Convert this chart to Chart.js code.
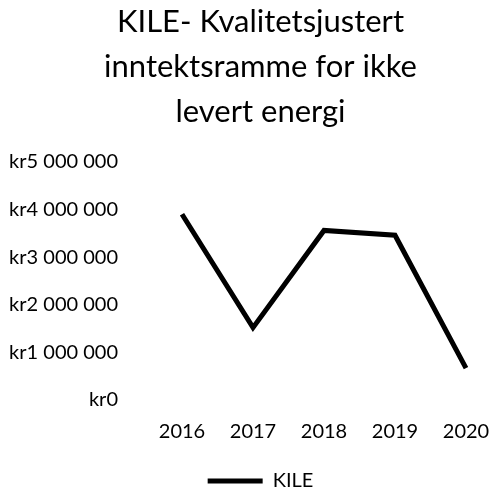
<!DOCTYPE html>
<html>
<head>
<meta charset="utf-8">
<script src="https://cdn.jsdelivr.net/npm/chart.js@4"></script>
<style>
html,body{margin:0;padding:0;background:#fff;overflow:hidden;width:491px;height:492px;}
canvas{display:block;}
</style>
</head>
<body>
<canvas id="c" width="521" height="492"></canvas>
<script>
const categories = ['2016', '2017', '2018', '2019', '2020'];
const kileValues = [3900000, 1520000, 3560000, 3460000, 670000];
const seriesName = 'KILE';
const titleLines = ['KILE- Kvalitetsjustert', 'inntektsramme for ikke', 'levert energi'];
const yMin = 0, yMax = 5000000, yStep = 1000000;

function fmtKr(v) {
  return 'kr' + String(Math.round(v)).replace(/\B(?=(\d{3})+(?!\d))/g, ' ');
}

const FONT = 'Lato, "Open Sans", sans-serif';

new Chart(document.getElementById('c'), {
  type: 'line',
  data: {
    labels: categories,
    datasets: [{
      label: seriesName,
      data: kileValues,
      yAxisID: 'y',
      borderColor: '#000000',
      backgroundColor: '#000000',
      borderWidth: 5,
      pointRadius: 0,
      pointHoverRadius: 0,
      pointStyle: 'line',
      pointBorderWidth: 5,
      pointBorderColor: '#000000',
      tension: 0,
      fill: false
    }]
  },
  options: {
    responsive: false,
    animation: false,
    layout: { padding: { left: 0, right: 0, top: 0, bottom: -9 } },
    plugins: {
      title: {
        display: true,
        text: titleLines,
        color: '#000000',
        font: { family: FONT, size: 31, weight: 'normal', lineHeight: 1.45 },
        padding: { top: 0, bottom: 27 }
      },
      legend: {
        position: 'bottom',
        labels: {
          usePointStyle: true,
          pointStyle: 'line',
          pointStyleWidth: 55,
          color: '#000000',
          font: { family: FONT, size: 20 },
          padding: 7
        }
      },
      tooltip: { enabled: false }
    },
    scales: {
      x: {
        grid: { display: false, drawTicks: false },
        border: { display: false },
        ticks: { color: '#000000', font: { family: FONT, size: 20 }, padding: 20, maxRotation: 0 }
      },
      y: {
        position: 'left',
        min: yMin,
        max: yMax,
        grid: { display: false, drawTicks: false },
        border: { display: false },
        ticks: {
          stepSize: yStep,
          color: '#000000',
          font: { family: FONT, size: 20 },
          padding: 64,
          callback: (v) => fmtKr(v)
        },
        afterFit: (s) => { s.width = 182; }
      },
      yr: {
        position: 'right',
        grid: { display: false, drawTicks: false },
        border: { display: false },
        ticks: { display: false },
        afterFit: (s) => { s.width = 55; }
      }
    }
  }
});
</script>
</body>
</html>
